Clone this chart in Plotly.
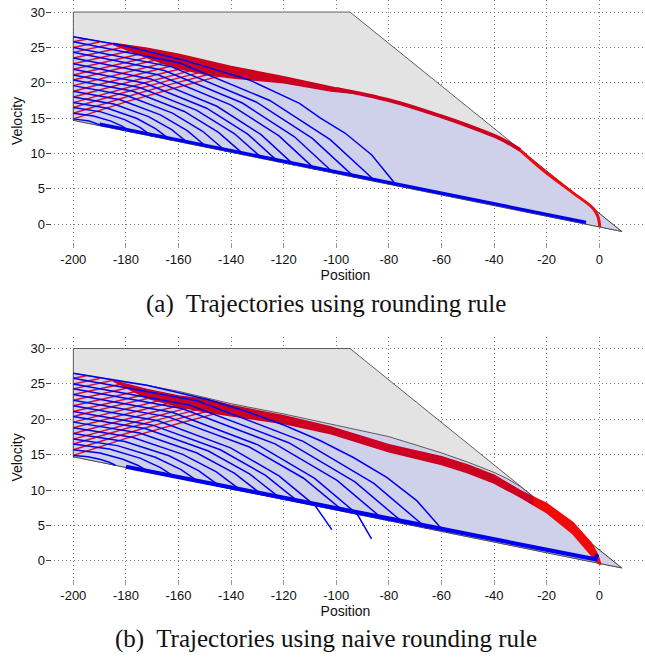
import plotly.graph_objects as go

# ---------------- axes / ticks ----------------
X_TICKS = [-200, -180, -160, -140, -120, -100, -80, -60, -40, -20, 0]
Y_TICKS = [0, 5, 10, 15, 20, 25, 30]
X_RANGE = [-210.4, 17.4]
Y_RANGE = [-2.5, 31.7]

# ---------------- safe set (grey) ----------------
SAFE_X = [-200, -94.8, 8.5, -200, -200]
SAFE_V = [30, 30, -1.0, 14.7, 30]

# upper boundary of the reachable set (lavender)
U_X = [-200, -180, -172, -160, -140, -120, -100, -80, -60, -50, -40, -35, -30]
U_V = [26.5, 25.2, 24.8, 23.95, 22.2, 20.75, 19.15, 17.55, 15.25, 13.95, 12.5, 11.6, 10.5]
TIP_X = [8.5]
TIP_V = [-1.0]
LOW_X = [-200, 8.5]
LOW_V = [14.7, -1.0]

# ---------------- red (accelerating) trajectories, both panels ----------------
RED_X = [
    [-200, -180, -160, -144.5],
    [-200, -180, -165, -149],
    [-200, -180, -165, -152.5],
    [-200, -180, -170, -156],
    [-200, -180, -170, -159.5],
    [-200, -180, -170, -163],
    [-200, -180, -166],
    [-200, -185, -169],
    [-200, -185, -172],
    [-200, -188, -175],
    [-200, -189, -178.6],
    [-200, -190, -182],
    [-200, -192, -185.3],
    [-200, -190],
    [-200, -195],
]
RED_V = [
    [14.9, 17.3, 19.4, 20.94],
    [15.7, 18.0, 19.6, 21.15],
    [16.5, 18.7, 20.2, 21.4],
    [17.2, 19.3, 20.3, 21.65],
    [18.0, 20.05, 21.0, 21.96],
    [18.8, 20.8, 21.7, 22.35],
    [19.6, 21.5, 22.75],
    [20.4, 21.8, 23.18],
    [21.1, 22.45, 23.56],
    [21.9, 22.95, 24.02],
    [22.7, 23.63, 24.5],
    [23.5, 24.3, 24.96],
    [24.3, 24.93, 25.47],
    [25.0, 25.77],
    [25.8, 26.16],
]

# ---------------- panel (a): rounding rule ----------------
BAND_A_UP_X = [-185, -180, -172, -160, -140, -120, -100, -92]
BAND_A_UP_V = [25.6, 25.3, 24.9, 24.05, 22.3, 20.85, 19.25, 18.6]
BAND_A_LO_X = [-185, -170, -160, -150, -140, -120, -102, -92]
BAND_A_LO_V = [25.45, 23.3, 22.0, 21.2, 20.7, 20.0, 18.85, 18.45]
TAIL_A_X = [-30, -25, -20, -10, -2.3, -0.5, 0.2]
TAIL_A_V = [10.45, 8.8, 7.25, 4.45, 2.25, 1.1, -0.35]

BLUE_A_X = [
    [-200, -194, -188],
    [-200, -192.3, -185.7, -181.3, -178],
    [-200, -189.5, -180.5, -174.5, -170],
    [-200, -187.0, -176.0, -168.6, -163],
    [-200, -184.6, -171.4, -162.6, -156],
    [-200, -182.2, -166.9, -156.7, -149],
    [-200, -179.7, -162.3, -150.7, -142],
    [-200, -177.3, -157.8, -144.8, -135],
    [-200, -174.8, -153.2, -138.8, -128],
    [-200, -172.7, -149.3, -133.7, -122],
    [-200, -170.6, -145.4, -128.6, -116],
    [-200, -167.8, -140.2, -121.8, -108],
    [-200, -165.4, -135.7, -115.9, -101],
    [-200, -162.6, -130.5, -109.1, -93],
    [-200, -159.8, -125.3, -102.3, -85],
    [-200, -180, -158, -133, -114, -106, -96.7, -86.5, -77],
]
BLUE_A_V = [
    [14.9, 14.6, 13.8],
    [15.7, 15.3, 14.58, 13.84, 13.04],
    [16.5, 15.89, 14.79, 13.66, 12.44],
    [17.2, 16.41, 14.98, 13.5, 11.91],
    [18.0, 17.01, 15.22, 13.37, 11.39],
    [18.8, 17.61, 15.47, 13.24, 10.86],
    [19.6, 18.21, 15.71, 13.11, 10.33],
    [20.4, 18.81, 15.95, 12.99, 9.81],
    [21.1, 19.33, 16.14, 12.83, 9.28],
    [21.9, 19.94, 16.41, 12.75, 8.83],
    [22.7, 20.55, 16.68, 12.67, 8.37],
    [23.5, 21.14, 16.89, 12.49, 7.77],
    [24.3, 21.74, 17.14, 12.37, 7.25],
    [25.0, 22.25, 17.29, 12.15, 6.64],
    [25.8, 22.84, 17.5, 11.97, 6.04],
    [26.5, 25.2, 23.2, 20.4, 17.1, 15.0, 12.9, 9.8, 5.44],
]
EDGE_A_X = [-190, -150, -100, -60, -30, -5]
EDGE_A_V = [14.15, 11.19, 7.42, 4.41, 2.15, 0.27]

# ---------------- panel (b): naive rounding rule ----------------
BAND_B_UP_X = [-185, -172, -160, -149, -140, -120, -102, -80, -60, -50, -40, -30, -25]
BAND_B_UP_V = [25.45, 24.2, 23.3, 22.8, 21.95, 20.5, 18.9, 16.4, 14.7, 13.55, 12.1, 9.9, 9.0]
BAND_B_LO_X = [-185, -172, -160, -149, -140, -120, -102, -80, -60, -50, -40, -30, -25]
BAND_B_LO_V = [25.45, 23.0, 21.8, 21.0, 20.5, 19.4, 17.95, 15.4, 13.6, 12.45, 11.0, 9.0, 7.9]
TAIL_B_UP_X = [-25, -20, -10, -3, -0.5, 0.6]
TAIL_B_UP_V = [9.0, 8.1, 5.4, 2.5, 0.8, -0.5]
TAIL_B_LO_X = [-25, -20, -10, -3, -0.3, 0.6]
TAIL_B_LO_V = [7.9, 6.8, 3.8, 0.8, -0.4, -0.5]

BLUE_B_X = [
    [-200, -194.4, -189.6, -186.4, -184],
    [-200, -189.85, -181.15, -175.35, -171],
    [-200, -186.35, -174.65, -166.85, -161],
    [-200, -183.2, -168.8, -159.2, -152],
    [-200, -180.4, -163.6, -152.4, -144],
    [-200, -177.6, -158.4, -145.6, -136],
    [-200, -174.8, -153.2, -138.8, -128],
    [-200, -172.35, -148.65, -132.85, -121],
    [-200, -169.9, -144.1, -126.9, -114],
    [-200, -167.8, -140.2, -121.8, -108, -101.7],
    [-200, -163.95, -133.05, -112.45, -97],
    [-200, -162.2, -129.8, -108.2, -92, -86.6],
    [-200, -158.7, -123.3, -99.7, -82],
    [-200, -155.9, -118.1, -92.9, -74],
    [-200, -152.9, -112.6, -85.7, -65.5],
    [-200, -172, -149, -135, -120, -106.2, -93.5, -80.8, -69.4, -59.3],
]
BLUE_B_V = [
    [14.9, 14.69, 14.31, 13.92, 13.5],
    [15.7, 15.22, 14.36, 13.47, 12.52],
    [16.5, 15.79, 14.51, 13.18, 11.76],
    [17.2, 16.28, 14.63, 12.92, 11.09],
    [18.0, 16.87, 14.84, 12.74, 10.48],
    [18.8, 17.46, 15.05, 12.56, 9.88],
    [19.6, 18.05, 15.27, 12.38, 9.28],
    [20.4, 18.65, 15.51, 12.25, 8.75],
    [21.1, 19.17, 15.69, 12.08, 8.22],
    [21.9, 19.78, 15.97, 12.01, 7.77, 4.4],
    [22.7, 20.34, 16.08, 11.67, 6.94],
    [23.5, 20.96, 16.39, 11.65, 6.57, 3.1],
    [24.3, 21.53, 16.53, 11.36, 5.81],
    [25.0, 22.03, 16.69, 11.15, 5.21],
    [25.8, 22.62, 16.88, 10.94, 4.57],
    [26.5, 24.8, 22.8, 21.2, 19.2, 17.0, 14.6, 11.8, 8.5, 4.25],
]
EDGE_B_X = [-180, -172, -160, -150, -130, -110, -90, -70, -50, -35, -25, -20, -15, -10, -6, -3, -1.5, -0.8]
EDGE_B_V = [13.3, 12.7, 11.8, 11.2, 9.7, 8.2, 6.7, 5.25, 3.75, 2.7, 2.0, 1.6, 1.1, 0.75, 0.5, 0.3, 0.2, 0.9]

CAPTIONS = ["(a)  Trajectories using rounding rule",
            "(b)  Trajectories using naive rounding rule"]

# ---------------- colours ----------------
GREY_FILL = "#e3e3e3"
LAV_FILL = "#cfd0ea"
EDGE_COL = "#3a3a3a"
BLUE = "#0000f0"
RED_THIN = "#d9112b"
RED_DARK = "#cc0020"
RED_BRIGHT = "#f00a0a"


def joined(xs_list, vs_list):
    X, V = [], []
    for xs, vs in zip(xs_list, vs_list):
        X += list(xs) + [None]
        V += list(vs) + [None]
    return X, V


fig = go.Figure()


def panel(xa, ya, band_up, band_lo, tails, blue_x, blue_v, edge, thick_u):
    kw = dict(xaxis=xa, yaxis=ya, showlegend=False, hoverinfo="skip")
    # grey safe set
    fig.add_trace(go.Scatter(x=SAFE_X, y=SAFE_V, mode="lines", fill="toself",
                             fillcolor=GREY_FILL, line=dict(color=EDGE_COL, width=0.8), **kw))
    # lavender reachable set
    lx = U_X + TIP_X + [LOW_X[0]] + [U_X[0]]
    lv = U_V + TIP_V + [LOW_V[0]] + [U_V[0]]
    fig.add_trace(go.Scatter(x=lx, y=lv, mode="lines", fill="toself",
                             fillcolor=LAV_FILL, line=dict(color=EDGE_COL, width=0.8), **kw))
    # thin red trajectories
    rx, rv = joined(RED_X, RED_V)
    fig.add_trace(go.Scatter(x=rx, y=rv, mode="lines",
                             line=dict(color=RED_THIN, width=1.5), **kw))
    # red band
    bx = band_up[0] + band_lo[0][::-1]
    bv = band_up[1] + band_lo[1][::-1]
    fig.add_trace(go.Scatter(x=bx, y=bv, mode="lines", fill="toself",
                             fillcolor=RED_DARK, line=dict(color=RED_DARK, width=1.5), **kw))
    if thick_u:
        ux = [x for x in U_X if x >= -100]
        uv = [v for x, v in zip(U_X, U_V) if x >= -100]
        fig.add_trace(go.Scatter(x=ux, y=uv, mode="lines",
                                 line=dict(color=RED_DARK, width=3.8, shape="spline"), **kw))
    for t in tails:
        if len(t) == 2:
            fig.add_trace(go.Scatter(x=t[0], y=t[1], mode="lines",
                                     line=dict(color=RED_BRIGHT, width=3, shape="spline"), **kw))
        else:
            tx = t[0] + t[2][::-1]
            tv = t[1] + t[3][::-1]
            fig.add_trace(go.Scatter(x=tx, y=tv, mode="lines", fill="toself",
                                     fillcolor=RED_BRIGHT, line=dict(color=RED_BRIGHT, width=1.5), **kw))
    # blue trajectories
    bx2, bv2 = joined(blue_x, blue_v)
    fig.add_trace(go.Scatter(x=bx2, y=bv2, mode="lines",
                             line=dict(color=BLUE, width=1.5), **kw))
    fig.add_trace(go.Scatter(x=edge[0], y=edge[1], mode="lines",
                             line=dict(color=BLUE, width=edge[2]), **kw))


panel("x", "y", (BAND_A_UP_X, BAND_A_UP_V), (BAND_A_LO_X, BAND_A_LO_V),
      [(TAIL_A_X, TAIL_A_V)], BLUE_A_X, BLUE_A_V, (EDGE_A_X, EDGE_A_V, 3.2), True)
panel("x2", "y2", (BAND_B_UP_X, BAND_B_UP_V), (BAND_B_LO_X, BAND_B_LO_V),
      [(TAIL_B_UP_X, TAIL_B_UP_V, TAIL_B_LO_X, TAIL_B_LO_V)], BLUE_B_X, BLUE_B_V,
      (EDGE_B_X, EDGE_B_V, 4.2), False)

W, H = 645, 657
tick_font = dict(family="Liberation Sans, Arial, sans-serif", size=13, color="#111")
title_font = dict(family="Liberation Sans, Arial, sans-serif", size=14, color="#111")

GRID_DASH = "1px,3px"
xcommon = dict(range=X_RANGE, tickvals=X_TICKS, ticktext=[str(t) for t in X_TICKS],
               showgrid=True, gridcolor="#777777", griddash=GRID_DASH, gridwidth=1,
               zeroline=False, showline=False, ticks="outside", ticklen=5,
               tickcolor="#999", tickfont=tick_font, domain=[46 / W, 1],
               automargin=False)
ycommon = dict(range=Y_RANGE, tickvals=Y_TICKS, ticktext=[str(t) for t in Y_TICKS],
               showgrid=True, gridcolor="#777777", griddash=GRID_DASH, gridwidth=1,
               zeroline=False, showline=False, ticks="inside", ticklen=5,
               tickcolor="#444", tickfont=tick_font, automargin=False)

fig.update_layout(
    width=W, height=H, margin=dict(l=0, r=0, t=0, b=0, autoexpand=False),
    paper_bgcolor="white", plot_bgcolor="white",
    xaxis=dict(xcommon, anchor="y",
               title=dict(text="Position", font=title_font, standoff=4)),
    yaxis=dict(ycommon, anchor="x", domain=[1 - 242 / H, 1],
               title=dict(text="Velocity", font=title_font, standoff=4)),
    xaxis2=dict(xcommon, anchor="y2",
                title=dict(text="Position", font=title_font, standoff=4)),
    yaxis2=dict(ycommon, anchor="x2", domain=[1 - 578.5 / H, 1 - 336.5 / H],
                title=dict(text="Velocity", font=title_font, standoff=4)),
)

for cap, ypx in zip(CAPTIONS, [304, 639]):
    fig.add_annotation(text=cap, xref="paper", yref="paper", x=0.505, y=1 - ypx / H,
                       showarrow=False, xanchor="center", yanchor="middle",
                       font=dict(family="Liberation Serif, Times New Roman, serif",
                                 size=25, color="#111"))

fig.write_html("out.html", config={"displayModeBar": False},
               post_script="document.body.style.margin='0px';")
